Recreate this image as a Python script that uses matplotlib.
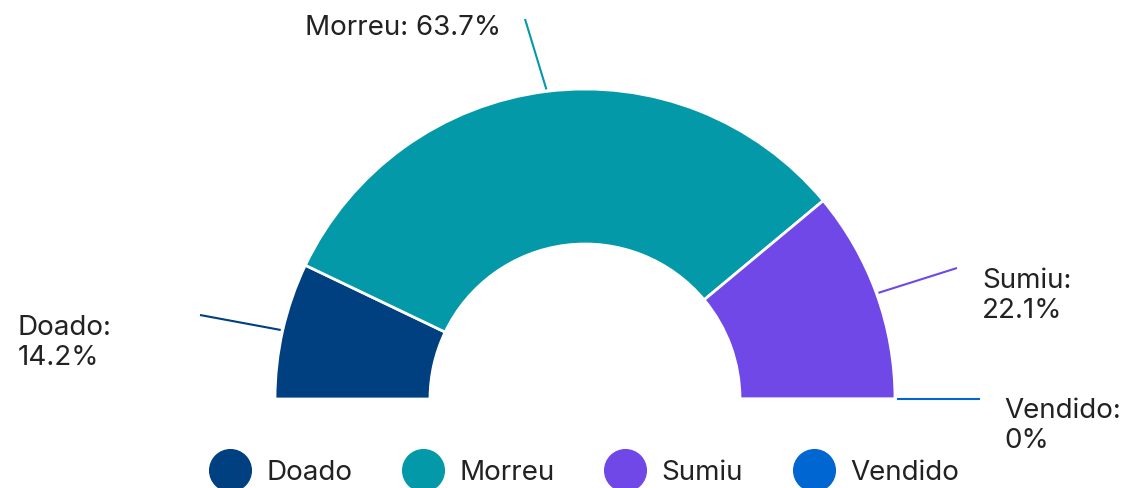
import numpy as np
import matplotlib
matplotlib.use("Agg")
import matplotlib.pyplot as plt
from matplotlib.lines import Line2D

# data
categories = ["Doado", "Morreu", "Sumiu", "Vendido"]
percentages = [14.2, 63.7, 22.1, 0.0]
colors = ["#003f80", "#0399a8", "#7048e8", "#0066d1"]
value_labels = ["14.2%", "63.7%", "22.1%", "0%"]

W, H = 1127, 488
plt.rcParams['font.family'] = ['Inter', 'DejaVu Sans']
text_color = "#222222"
fsize = 20

fig = plt.figure(figsize=(W / 100, H / 100), dpi=100)
ax = fig.add_axes([0, 0, 1, 1])

# half donut: pie over half the circle
cx, cy = 585, 488 - 399
R, r_in = 310, 155
fracs = [p / 200.0 for p in percentages]
ax.pie(fracs, colors=colors, normalize=False, startangle=180, counterclock=False,
       center=(cx, cy), radius=R,
       wedgeprops=dict(width=R - r_in, edgecolor="white", linewidth=2))

# leader lines: start on the outer edge at the slice mid angle, end near the label
line_ends = [(200, 315), (525, 19), (957, 268), (980, 399)]
cum = np.cumsum([0] + percentages)
mids = [180 - (cum[i] + percentages[i] / 2) * 1.8 for i in range(len(percentages))]
for ang, col, (ex, ey) in zip(mids, colors, line_ends):
    a = np.deg2rad(ang)
    ax.plot([cx + 312 * np.cos(a), ex], [cy + 312 * np.sin(a), H - ey],
            color=col, lw=1.5, solid_capstyle="butt")

# labels (pixel positions from top)
ax.text(18, H - 343, "Doado:\n14.2%", ha="left", va="center", fontsize=fsize, color=text_color)
ax.text(501, H - 28, "Morreu: 63.7%", ha="right", va="center", fontsize=fsize, color=text_color)
ax.text(982, H - 296, "Sumiu:\n22.1%", ha="left", va="center", fontsize=fsize, color=text_color)
ax.text(1004, H - 426, "Vendido:\n0%", ha="left", va="center", fontsize=fsize, color=text_color)

ax.set_xlim(0, W)
ax.set_ylim(0, H)
ax.set_aspect("equal")
ax.axis("off")

handles = [Line2D([], [], marker="o", linestyle="none", markersize=30,
                  markerfacecolor=c, markeredgecolor=c) for c in colors]
leg = fig.legend(handles, categories, loc="center", bbox_to_anchor=(584 / W, 15 / H),
                 ncol=4, frameon=False, fontsize=fsize, handlelength=1.5,
                 handletextpad=0.55, columnspacing=1.8, borderpad=0, borderaxespad=0)
for t in leg.get_texts():
    t.set_color(text_color)

fig.savefig("out.png", dpi=100)
